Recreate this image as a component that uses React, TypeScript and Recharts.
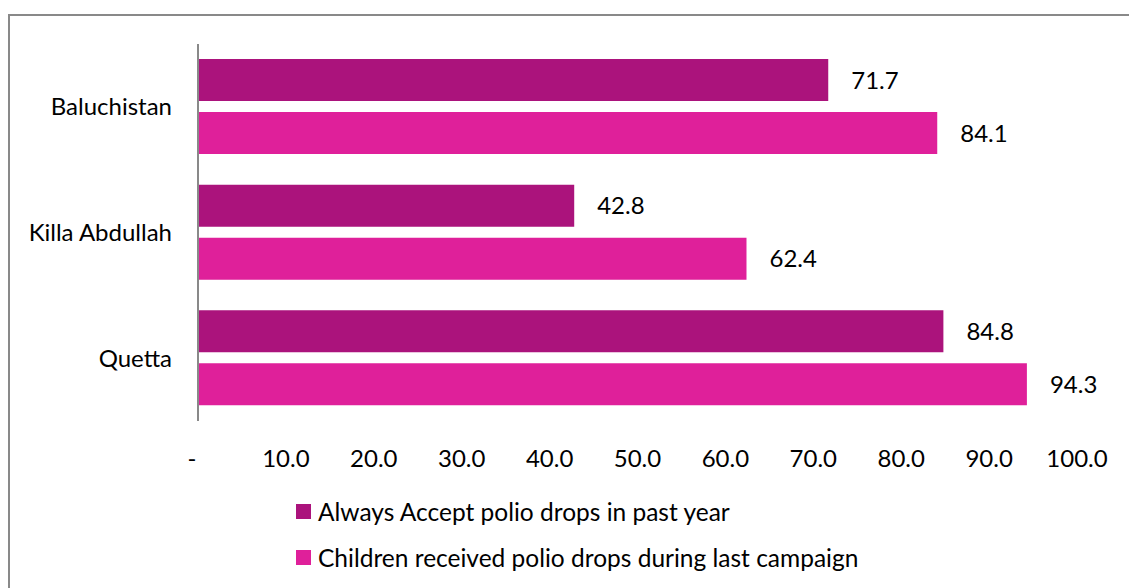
import React from 'react';
import { Bar, BarChart, LabelList, XAxis, YAxis } from 'recharts';

const regions = ['Baluchistan', 'Killa Abdullah', 'Quetta'];
const alwaysAccept = [71.7, 42.8, 84.8];
const receivedLastCampaign = [84.1, 62.4, 94.3];
const xTicks = [0, 10, 20, 30, 40, 50, 60, 70, 80, 90, 100];

const seriesNames = {
    alwaysAccept: 'Always Accept polio drops in past year',
    received: 'Children received polio drops during last campaign',
};

const DARK = '#AB137C';
const PINK = '#DF209A';
const FONT = 'Lato, "Noto Sans", sans-serif';
const FONT_SIZE = 24;

const rows = regions.map((region, i) => ({
    region,
    alwaysAccept: alwaysAccept[i],
    received: receivedLastCampaign[i],
}));

const fmtTick = (v: number) => (v === 0 ? '-' : v.toFixed(1));

const legendItems = [
    { name: seriesNames.alwaysAccept, color: DARK, center: 511 },
    { name: seriesNames.received, color: PINK, center: 557 },
];

// zero is shown as a dash, nudged a little left like the accounting format
const XTick = (props: any) => {
    const { x, y, payload } = props;
    const label = fmtTick(payload.value);
    return (
        <text
            x={payload.value === 0 ? x - 6 : x}
            y={y}
            dy="0.71em"
            textAnchor="middle"
            fill="#000"
            fontSize={FONT_SIZE}
            fontFamily={FONT}
        >
            {label}
        </text>
    );
};

const App: React.FC = () => {
    return (
        <div style={{ position: 'fixed', left: 0, top: 0, width: 1129, height: 588, overflow: 'hidden', background: '#fff' }}>
            <div
                style={{
                    position: 'absolute',
                    left: 8,
                    top: 14,
                    width: 1200,
                    height: 700,
                    borderTop: '2px solid #898989',
                    borderLeft: '2px solid #898989',
                }}
            />
            <div style={{ position: 'absolute', left: 0, top: 0 }}>
                <BarChart
                    width={1129}
                    height={588}
                    data={rows}
                    layout="vertical"
                    margin={{ top: 44, right: 52, bottom: 137, left: 0 }}
                    barSize={42}
                    barGap={11}
                >
                    <XAxis
                        type="number"
                        domain={[0, 100]}
                        ticks={xTicks}
                        axisLine={false}
                        tickLine={false}
                        height={30}
                        tickMargin={23}
                        tick={<XTick />}
                    />
                    <YAxis
                        type="category"
                        dataKey="region"
                        width={198}
                        axisLine={{ stroke: '#898989', strokeWidth: 2 }}
                        tickLine={false}
                        tickMargin={20}
                        tick={{ fill: '#000', fontSize: FONT_SIZE, fontFamily: FONT }}
                    />
                    <Bar dataKey="alwaysAccept" name={seriesNames.alwaysAccept} fill={DARK} isAnimationActive={false}>
                        <LabelList dataKey="alwaysAccept" position="right" offset={23} fill="#000" fontSize={FONT_SIZE} fontFamily={FONT} formatter={(v: number) => v.toFixed(1)} />
                    </Bar>
                    <Bar dataKey="received" name={seriesNames.received} fill={PINK} isAnimationActive={false}>
                        <LabelList dataKey="received" position="right" offset={23} fill="#000" fontSize={FONT_SIZE} fontFamily={FONT} formatter={(v: number) => v.toFixed(1)} />
                    </Bar>
                </BarChart>
            </div>
            {/* legend stacked in two left-aligned rows under the axis */}
            {legendItems.map((item) => (
                <div
                    key={item.name}
                    style={{
                        position: 'absolute',
                        left: 296,
                        top: item.center - 15,
                        height: 30,
                        display: 'flex',
                        alignItems: 'center',
                        fontFamily: FONT,
                        fontSize: 24.5,
                        color: '#000',
                        whiteSpace: 'nowrap',
                    }}
                >
                    <span style={{ width: 15, height: 15, background: item.color, display: 'inline-block', marginRight: 7 }} />
                    <span>{item.name}</span>
                </div>
            ))}
        </div>
    );
};

export default App;
